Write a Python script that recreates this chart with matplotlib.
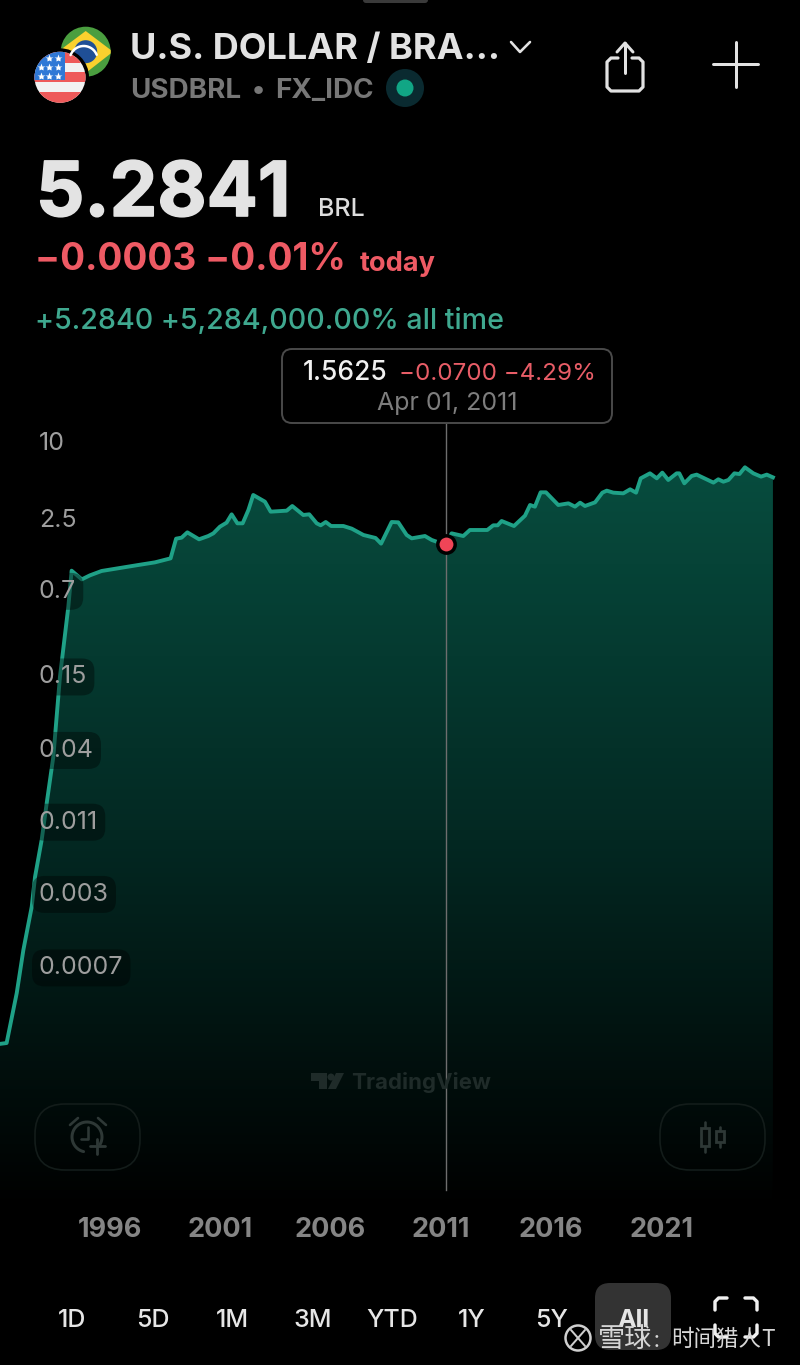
import numpy as np
import matplotlib
matplotlib.use('Agg')
import matplotlib.pyplot as plt
import matplotlib.patheffects as pe
from matplotlib.patches import Circle, FancyBboxPatch, Polygon, Rectangle

# decimal years and USD/BRL
years = [1991.00, 1991.30, 1991.76, 1992.06, 1992.44, 1992.59, 1992.89, 1993.12, 1993.42, 1993.72, 1994.10,
         1994.25, 1994.71, 1995.08, 1995.61, 1997.28, 1998.03, 1998.74, 1998.99, 1999.24, 1999.50,
         2000.03, 2000.45, 2000.68, 2000.98, 2001.28, 2001.51, 2001.77, 2002.01, 2002.27, 2002.49,
         2003.02, 2003.28, 2004.01, 2004.26, 2004.76, 2005.03, 2005.37, 2005.55, 2005.78, 2006.02,
         2006.58, 2006.96, 2007.49, 2008.04, 2008.29, 2008.77, 2009.07, 2009.15, 2009.45, 2009.68,
         2010.28, 2010.59, 2010.89, 2011.25, 2011.49, 2012.02, 2012.32, 2013.11, 2013.38, 2013.58,
         2013.76, 2014.32, 2014.82, 2015.05, 2015.27, 2015.53, 2015.77, 2016.33, 2016.79, 2017.09,
         2017.32, 2017.54, 2018.00, 2018.33, 2018.53, 2018.83, 2019.28, 2019.59, 2019.86, 2020.07,
         2020.49, 2020.80, 2021.05, 2021.32, 2021.70, 2021.82, 2022.05, 2022.38, 2022.61, 2023.37,
         2023.59, 2023.82, 2024.05, 2024.32, 2024.55, 2024.80, 2025.18, 2025.53, 2025.79, 2026.07]
prices = [0.000195, 0.000198, 0.000487, 0.001055, 0.00230, 0.00394, 0.00763, 0.01486, 0.0342, 0.144, 0.507,
          0.970, 0.830, 0.892, 0.965, 1.075, 1.127, 1.211, 1.726, 1.757, 1.934,
          1.706, 1.810, 1.899, 2.142, 2.301, 2.674, 2.274, 2.274, 2.890, 3.786,
          3.357, 2.805, 2.856, 3.106, 2.642, 2.674, 2.274, 2.194, 2.329, 2.167,
          2.167, 2.066, 1.844, 1.747, 1.578, 2.329, 2.315, 2.207, 1.844, 1.736,
          1.810, 1.685, 1.616, 1.5625, 1.899, 1.810, 2.017, 2.017, 2.194, 2.194,
          2.371, 2.167, 2.610, 3.162, 3.069, 3.972, 3.972, 3.162, 3.258, 3.069,
          3.297, 3.106, 3.317, 3.948, 4.093, 3.948, 3.901, 4.193, 3.948, 5.11,
          5.59, 5.11, 5.66, 4.96, 5.59, 5.59, 4.67, 5.33, 5.46, 4.73,
          5.02, 4.81, 4.96, 5.59, 5.52, 6.23, 5.59, 5.27, 5.46, 5.20]

marker_year = 2011.25
marker_price = 1.5625

# the axis labels are rounded, the lowest one sits higher than its text says
price_ticks = [10, 2.5, 0.7, 0.15, 0.04, 0.011, 0.003, 0.0008]
price_labels = ['10', '2.5', '0.7', '0.15', '0.04', '0.011', '0.003', '0.0007']
year_ticks = [1996, 2001, 2006, 2011, 2016, 2021]
range_labels = ['1D', '5D', '1M', '3M', 'YTD', '1Y', '5Y', 'All']

W, H = 800, 1365
PX = 0.72  # pixels to points at dpi 100
LINE = '#1fa187'
RED = '#ee5a64'

plt.rcParams['font.family'] = ['Inter', 'Roboto', 'DejaVu Sans']

fig = plt.figure(figsize=(W / 100, H / 100), dpi=100, facecolor='black')

# background axes holds the gradient only
bg = fig.add_axes([0, 0, 1, 1], zorder=0)
bg.set_xlim(0, W)
bg.set_ylim(H, 0)
bg.axis('off')

# chart axes covers the whole figure, 22.04 px per year and 128 px per decade
ax = fig.add_axes([0, 0, 1, 1], zorder=1)
ax.patch.set_visible(False)
ax.set_yscale('log')
ax.set_xlim(1991, 1991 + W / 22.04)
ax.set_ylim(10 ** (1 - (H - 441) / 128), 10 ** (1 + 441 / 128))
for s in ax.spines.values():
    s.set_visible(False)
ax.set_axisbelow(False)
ax.minorticks_off()

grad = np.zeros((256, 1, 3))
t = np.linspace(0, 1, 256)
grad[:, 0, 0] = np.interp(t, [0, 0.5, 1], [7, 3, 0]) / 255
grad[:, 0, 1] = np.interp(t, [0, 0.5, 1], [76, 40, 0]) / 255
grad[:, 0, 2] = np.interp(t, [0, 0.5, 1], [62, 34, 0]) / 255
im = bg.imshow(grad, extent=(0, W, 1210, 470), aspect='auto', interpolation='bilinear')
bg.set_xlim(0, W)
bg.set_ylim(H, 0)

bottom = ax.get_ylim()[0]
verts = list(zip(years, prices)) + [(years[-1], bottom), (years[0], bottom)]
clip = Polygon(verts, closed=True, transform=ax.transData)
im.set_clip_path(clip)

ax.plot(years, prices, color=LINE, lw=2.8, solid_joinstyle='round', zorder=2)
ax.axvline(marker_year, ymin=(H - 1190) / H, ymax=(H - 424) / H, color='#6e6e6e', lw=1.0, zorder=3)
ax.plot([marker_year], [marker_price], 'o', ms=12.5, mfc='#ef4557', mec='black', mew=2.5, zorder=5)

# axis labels live inside the plot
ax.set_yticks(price_ticks)
ax.set_yticklabels(price_labels, ha='left', va='center_baseline', fontsize=18, color='#9e9e9e')
ax.tick_params(axis='y', which='both', length=0, pad=-39 * PX)
for lab in ax.get_yticklabels():
    lab.set_bbox(dict(boxstyle='round,pad=0.28,rounding_size=0.5', fc='black', ec='none', alpha=0.38))
ax.set_xticks(year_ticks)
ax.set_xticklabels([str(y) for y in year_ticks], va='baseline', ha='center', fontsize=19.5, fontweight='bold', color='#858585')
ax.tick_params(axis='x', which='both', length=0, pad=-(H - 1237) * PX)

# ui layer in pixel coordinates
ui = fig.add_axes([0, 0, 1, 1], zorder=2)
ui.patch.set_visible(False)
ui.set_xlim(0, W)
ui.set_ylim(H, 0)
ui.axis('off')


def txt(x, y, s, size, color, weight='normal', ha='left', family=None):
    kw = {'family': family} if family else {}
    return ui.text(x, y, s, fontsize=size, color=color, fontweight=weight, ha=ha, va='baseline', **kw)


def stroke(pts, color='#e2e2e2', lw=3, **kw):
    xs, ys = zip(*pts)
    ui.plot(xs, ys, color=color, lw=lw * PX, solid_capstyle='round', solid_joinstyle='round', **kw)


def rbox(x0, y0, x1, y1, r, **kw):
    p = FancyBboxPatch((x0 + r, y0 + r), x1 - x0 - 2 * r, y1 - y0 - 2 * r,
                       boxstyle='round,pad=%f,rounding_size=%f' % (r, r), **kw)
    ui.add_patch(p)
    return p


# handle at the very top
rbox(363, -6, 428, 3, 3, fc='#3a3a3a', ec='none')

# flags
br = Circle((85.7, 51.7), 25, fc='#4a9e3f', ec='none')
ui.add_patch(br)
dia = Polygon([(85.7, 31), (113, 51.7), (85.7, 73), (58, 51.7)], fc='#fbd12e', ec='none')
ui.add_patch(dia)
dia.set_clip_path(br)
ui.add_patch(Circle((85.7, 51.7), 11.5, fc='#1f4f96', ec='none'))
arc_t = np.linspace(3.5, 5.9, 20)
stroke(list(zip(85.7 + 14 * np.cos(arc_t) - 2, 60 + 14 * np.sin(arc_t))), color='white', lw=2.5)
ui.add_patch(Circle((60, 77.3), 29, fc='black', ec='none'))
us = Circle((60, 77.3), 25.5, fc='#f2f2f2', ec='none')
ui.add_patch(us)
for y0, y1 in [(50, 63), (72, 82), (92, 104)]:
    r = Rectangle((30, y0), 60, y1 - y0, fc='#ee5a5a', ec='none')
    ui.add_patch(r)
    r.set_clip_path(us)
c = Rectangle((30, 50), 35, 30, fc='#2f78d6', ec='none')
ui.add_patch(c)
c.set_clip_path(us)
for sx, sy in [(49, 58), (58, 58), (41, 67), (49, 67), (58, 67), (41, 76), (49, 76), (58, 76)]:
    ui.plot([sx], [sy], marker='*', ms=6, mfc='white', mec='none')

# header
txt(130, 59, 'U.S. DOLLAR / BRA...', 26, '#e2e2e2', 'bold')
stroke([(511, 42), (520, 52), (530, 42)], lw=2.6)
txt(130, 98, 'USDBRL', 20, '#777777', 'bold')
txt(258, 98, '\u2022', 20, '#777777', 'bold', ha='center')
txt(275, 98, 'FX_IDC', 20, '#777777', 'bold')
ui.add_patch(Circle((405, 88), 19, fc='#0a2a30', ec='none'))
ui.add_patch(Circle((405, 88), 8.5, fc='#11a685', ec='none'))

# share icon
stroke([(618, 58), (611, 58), (607, 62), (607, 87), (611, 91), (639, 91), (643, 87), (643, 62), (639, 58), (632, 58)], lw=3.2)
stroke([(625, 73), (625, 43)], lw=3)
stroke([(617, 52), (625, 43), (633, 52)], lw=3)
# plus icon
stroke([(713, 64), (758, 64)], lw=3)
stroke([(736, 42), (736, 87)], lw=3)

# price block
big = txt(36, 216, '5.2841', 54.5, '#e3e3e3', 'bold')
big.set_path_effects([pe.withStroke(linewidth=1.2, foreground='#e3e3e3')])
txt(318, 216, 'BRL', 18, '#dddddd', 'medium')
txt(35, 270, '\u22120.0003 \u22120.01%', 26.6, RED, 'bold')
txt(360, 271, 'today', 19.5, RED, 'bold')
txt(35, 329, '+5.2840 +5,284,000.00% all time', 20.6, '#3fa88f', 'medium')

# crosshair tooltip
rbox(282, 349, 612, 423, 10, fc='black', ec='#4a4a4a', lw=1.4)
txt(303, 380, '1.5625', 19, '#f0f0f0', 'medium')
txt(399, 380, '\u22120.0700 \u22124.29%', 17.4, '#e85d67')
txt(447, 410, 'Apr 01, 2011', 18, '#7d7d7d', ha='center')

# TradingView mark
WM = '#1f2b29'
ui.add_patch(Polygon([(311, 1073), (327, 1073), (327, 1089), (319, 1089), (319, 1081), (311, 1081)], fc=WM, ec='none'))
ui.add_patch(Circle((331, 1077), 3.5, fc=WM, ec='none'))
ui.add_patch(Polygon([(344, 1073), (336, 1089), (328, 1089), (336, 1073)], fc=WM, ec='none'))
txt(351, 1089, 'TradingView', 16, WM, 'bold')

# floating buttons
rbox(35, 1104, 140, 1170, 30, fc='none', ec='#131c1a', lw=1.2)
rbox(660, 1104, 765, 1170, 30, fc='none', ec='#131c1a', lw=1.2)
IC = '#2e3836'
t = np.linspace(0.2, 5.2, 40)
stroke(list(zip(87 + 15 * np.cos(t + 1.6), 1137 + 15 * np.sin(t + 1.6))), color=IC, lw=3)
stroke([(88, 1127), (88, 1139), (81, 1139)], color=IC, lw=2.6)
stroke([(70, 1125), (78, 1118)], color=IC, lw=2.6)
stroke([(98, 1118), (106, 1125)], color=IC, lw=2.6)
stroke([(90, 1146), (105, 1146)], color=IC, lw=2.8)
stroke([(97, 1139), (97, 1154)], color=IC, lw=2.8)
stroke([(705, 1122), (705, 1152)], color=IC, lw=2.6)
stroke([(720, 1127), (720, 1147)], color=IC, lw=2.6)
ui.add_patch(Rectangle((701, 1128), 8, 18, fc='#050b0a', ec=IC, lw=2, zorder=3))
ui.add_patch(Rectangle((716, 1131), 8, 11, fc='#050b0a', ec=IC, lw=2, zorder=3))

# range selector
rbox(595, 1283, 671, 1350, 15, fc='#333333', ec='none')
range_x = [72, 153, 232, 313, 392, 472, 552, 633]
for lab, x in zip(range_labels, range_x):
    txt(x, 1327, lab, 18, '#e6e6e6', 'bold' if lab == 'All' else 'medium', ha='center')

# fullscreen corners
for x0, x1, y0, y1 in [(715, 727, 1310, 1298), (757, 745, 1310, 1298), (715, 727, 1325, 1337), (757, 745, 1325, 1337)]:
    stroke([(x0, y0), (x0, y0 + (y1 - y0) * 0.7), (x0 + (x1 - x0) * 0.3, y1), (x1, y1)], color='#f0f0f0', lw=3.4)

# site watermark over the corner
ui.add_patch(Circle((578, 1338), 12.5, fc='none', ec='#cfcfcf', lw=1.8))
stroke([(571, 1330), (585, 1346)], color='#cfcfcf', lw=2)
stroke([(585, 1330), (571, 1346)], color='#cfcfcf', lw=2)
cjk = ['Noto Sans CJK SC', 'DejaVu Sans']
txt(598, 1347, '\u96ea\u7403', 19.5, '#d6d6d6', family=cjk)
txt(652, 1347, '\uff1a', 14, '#d6d6d6', family=cjk)
txt(671, 1346, '\u65f6\u95f4\u730e\u4eba', 16.2, '#d6d6d6', family=cjk)
txt(761, 1346, 'T', 16.2, '#d6d6d6', family=cjk)

plt.savefig('out.png', dpi=100, facecolor='black')
plt.close()
